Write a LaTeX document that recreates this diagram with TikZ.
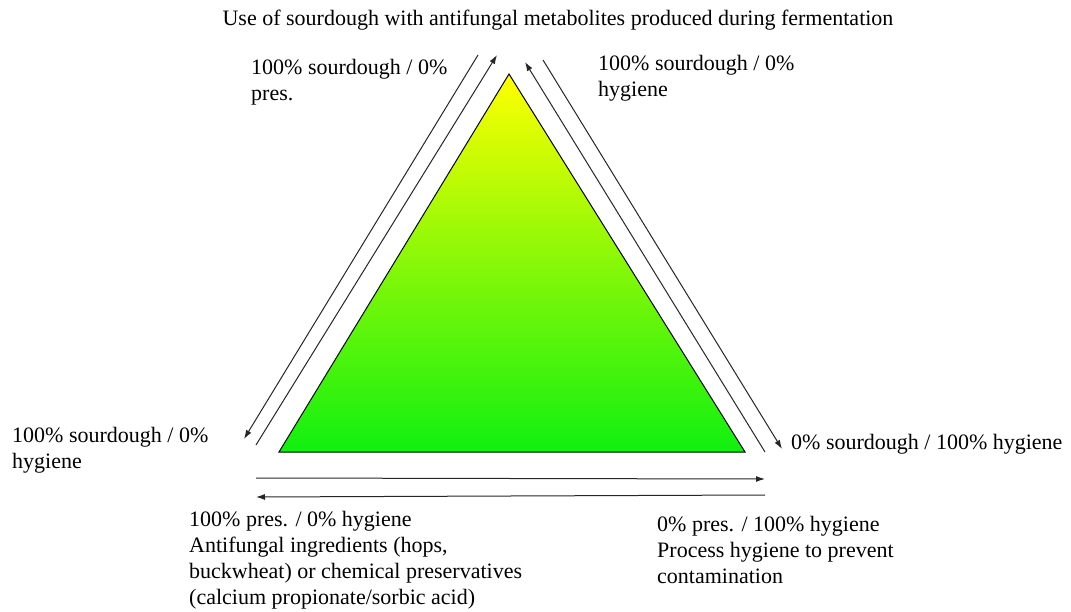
\documentclass[tikz,border=0pt]{standalone}
\usepackage{fontspec}
\setmainfont{Liberation Serif}
\usetikzlibrary{arrows.meta}

\definecolor{tipyellow}{RGB}{255,255,0}
\definecolor{basegreen}{RGB}{16,240,16}

\tikzset{
  lbl/.style={anchor=west,align=left,inner sep=0pt,font=\fontsize{22}{26}\selectfont},
  arr/.style={-{Latex[length=9pt,width=6pt]},line width=1pt,black!85}
}

\begin{document}
\begin{tikzpicture}[x=1pt,y=-1pt]
	\useasboundingbox (0,0) rectangle (1071,612);

	% corners of the triangle
	\coordinate (apex) at (509,74);
	\coordinate (lcorner) at (279,452);
	\coordinate (rcorner) at (745,452);
	\shade[top color=tipyellow,bottom color=basegreen] (apex) -- (lcorner) -- (rcorner) -- cycle;
	\draw[line width=1pt] (apex) -- (lcorner) -- (rcorner) -- cycle;

	% ends of the arrows
	\coordinate (lo1) at (478,55);  \coordinate (lo2) at (244,439);
	\coordinate (li1) at (256,445); \coordinate (li2) at (497,55);
	\coordinate (ri1) at (765,452); \coordinate (ri2) at (525,62);
	\coordinate (ro1) at (543,60);  \coordinate (ro2) at (782,449);
	\coordinate (bu1) at (256,478); \coordinate (bu2) at (765,479);
	\coordinate (bd1) at (765,495); \coordinate (bd2) at (256,497);

	\draw[arr] (lo1) -- (lo2);
	\draw[arr] (li1) -- (li2);
	\draw[arr] (ri1) -- (ri2);
	\draw[arr] (ro1) -- (ro2);
	\draw[arr] (bu1) -- (bu2);
	\draw[arr] (bd1) -- (bd2);

	% labels
	\node[lbl,anchor=center] (title) at (558,20) {Use of sourdough with antifungal metabolites produced during fermentation};
	\node[lbl] (toppres) at (251,82.5) {100\% sourdough / 0\%\\pres.};
	\node[lbl] (tophyg) at (598,78) {100\% sourdough / 0\%\\hygiene};
	\node[lbl] (leftcorner) at (12,450.5) {100\% sourdough / 0\%\\hygiene};
	\node[lbl] (rightcorner) at (791,444) {0\% sourdough / 100\% hygiene};
	\node[lbl] (presblock) at (189,560) {100\% pres. / 0\% hygiene\\Antifungal ingredients (hops,\\buckwheat) or chemical preservatives\\(calcium propionate/sorbic acid)};
	\node[lbl] (hygblock) at (657,550) {0\% pres. / 100\% hygiene\\Process hygiene to prevent\\contamination};
\end{tikzpicture}
\end{document}
